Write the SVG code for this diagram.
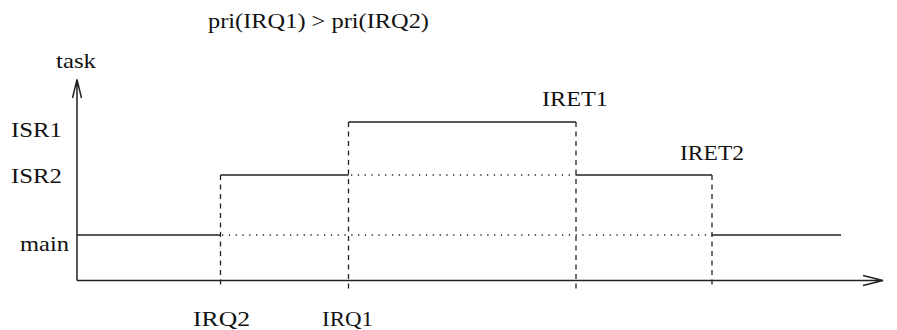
<svg xmlns="http://www.w3.org/2000/svg" width="897" height="330" viewBox="0 0 897 330">
  <style>
    .solid { fill: none; stroke: #222; stroke-width: 1.5; }
    .dash { fill: none; stroke: #222; stroke-width: 1.3; stroke-dasharray: 5 4.5; }
    .dot { fill: none; stroke: #222; stroke-width: 1.3; stroke-dasharray: 1.3 5.5; }
    .lbl { font-family: "Liberation Serif", "Times New Roman", Times, "DejaVu Serif", serif; font-size: 21px; fill: #111; }
  </style>
  <rect width="897" height="330" fill="#fff"/>

  <!-- axes with open arrowheads -->
  <g id="axes">
    <path class="solid" d="M77 280.5 V79.5 M72.5 98 L77 79.5 L81.5 98"/>
    <path class="solid" d="M77 280.5 H883 M863 275.5 L883 280.5 L863 285.5"/>
  </g>

  <!-- dotted levels for pre-empted tasks -->
  <g id="preempted">
    <path class="dot" d="M222 235 H712"/>
    <path class="dot" d="M351 175 H576"/>
  </g>

  <!-- dashed event markers -->
  <g id="events">
    <path class="dash" d="M220.5 175 V289"/>
    <path class="dash" d="M348.5 122 V289"/>
    <path class="dash" d="M576 122 V289"/>
    <path class="dash" d="M712 175 V289"/>
  </g>

  <!-- running task over time -->
  <g id="running">
    <path class="solid" d="M77 235 H220.5"/>
    <path class="solid" d="M220.5 175 H348.5"/>
    <path class="solid" d="M348.5 122 H576"/>
    <path class="solid" d="M576 175 H712"/>
    <path class="solid" d="M712 235 H841"/>
  </g>

  <g id="labels">
    <text class="lbl" x="208" y="28" textLength="221" lengthAdjust="spacingAndGlyphs">pri(IRQ1) &gt; pri(IRQ2)</text>
    <text class="lbl" x="56" y="68" textLength="40" lengthAdjust="spacingAndGlyphs">task</text>
    <text class="lbl" x="11" y="137" textLength="51" lengthAdjust="spacingAndGlyphs">ISR1</text>
    <text class="lbl" x="11" y="183" textLength="51" lengthAdjust="spacingAndGlyphs">ISR2</text>
    <text class="lbl" x="20" y="251" textLength="49" lengthAdjust="spacingAndGlyphs">main</text>
    <text class="lbl" x="193" y="326" textLength="57" lengthAdjust="spacingAndGlyphs">IRQ2</text>
    <text class="lbl" x="322" y="326" textLength="51" lengthAdjust="spacingAndGlyphs">IRQ1</text>
    <text class="lbl" x="542" y="106" textLength="66" lengthAdjust="spacingAndGlyphs">IRET1</text>
    <text class="lbl" x="680" y="160" textLength="64" lengthAdjust="spacingAndGlyphs">IRET2</text>
  </g>
</svg>
